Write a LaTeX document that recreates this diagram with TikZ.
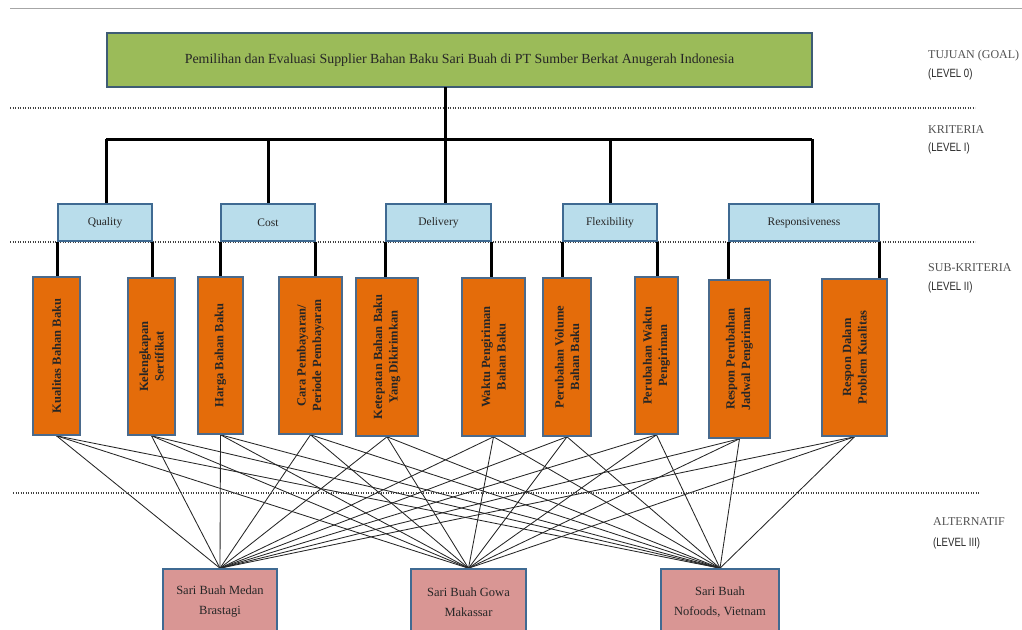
\documentclass[tikz,border=0pt]{standalone}
\usepackage{fontspec}
\setmainfont{Liberation Serif}
\newfontfamily\narrowsans[FakeStretch=0.8]{Liberation Sans}
\usetikzlibrary{backgrounds}
\definecolor{goalfill}{HTML}{9BBB59}
\definecolor{goaldraw}{HTML}{3E5C74}
\definecolor{critfill}{HTML}{B9DDEB}
\definecolor{critdraw}{HTML}{3F6A92}
\definecolor{subfill}{HTML}{E46C0A}
\definecolor{subdraw}{HTML}{4A6A8C}
\definecolor{altfill}{HTML}{D99694}
\definecolor{altdraw}{HTML}{3F6A92}
\definecolor{txt}{HTML}{262626}
\tikzset{
  boxbase/.style={rectangle, inner sep=0pt, line width=1.6pt, text=txt},
  goalbox/.style={boxbase, fill=goalfill, draw=goaldraw},
  critbox/.style={boxbase, fill=critfill, draw=critdraw, font=\fontsize{11.5}{13}\selectfont},
  subbox/.style={boxbase, fill=subfill, draw=subdraw},
  subtext/.style={rotate=90, align=center, inner sep=0pt, text=txt, font=\bfseries\fontsize{12.5}{15.5}\selectfont},
  altbox/.style={boxbase, fill=altfill, draw=altdraw},
  alttext/.style={align=center, inner sep=0pt, text=txt, font=\fontsize{12.5}{20}\selectfont},
  tree/.style={line width=3pt, draw=black},
  net/.style={line width=0.85pt, draw=black!85},
  levelsep/.style={line width=1.1pt, draw=black!75, dash pattern=on 1.2pt off 1.3pt},
  lvlserif/.style={anchor=west, inner sep=0pt, text=txt!80, font=\fontsize{12}{14}\selectfont},
  lvlsans/.style={anchor=west, inner sep=0pt, text=txt, font=\narrowsans\fontsize{12}{14}\selectfont},
}
\begin{document}
\begin{tikzpicture}[x=1pt,y=-1pt]
\useasboundingbox (0,0) rectangle (1022,629);
\clip (0,0) rectangle (1022,629);
% top rule
\coordinate (rl) at (10,8);
\coordinate (rr) at (1022,8);
\draw[line width=1pt, draw=black!35] (rl) -- (rr);
% level separators
\coordinate (d1l) at (10,108); \coordinate (d1r) at (975,108);
\coordinate (d2l) at (10,242); \coordinate (d2r) at (975,242);
\coordinate (d3l) at (13,493); \coordinate (d3r) at (980,493);
\draw[levelsep] (d1l) -- (d1r);
\draw[levelsep] (d2l) -- (d2r);
\draw[levelsep] (d3l) -- (d3r);
% goal
\node[goalbox, minimum width=705pt, minimum height=54pt, font=\fontsize{13.9}{16}\selectfont] (goal) at (459.5,60)
  {Pemilihan dan Evaluasi Supplier Bahan Baku Sari Buah di PT Sumber Berkat Anugerah Indonesia};
% criteria
\node[critbox, minimum width=94pt, minimum height=37pt] (cq) at (105,222.5) {Quality};
\node[critbox, minimum width=94pt, minimum height=37pt] (cc) at (268,222.5) {Cost};
\node[critbox, minimum width=105pt, minimum height=37pt] (cd) at (438.5,222.5) {Delivery};
\node[critbox, minimum width=94pt, minimum height=37pt] (cf) at (610,222.5) {Flexibility};
\node[critbox, minimum width=150pt, minimum height=37pt] (cr) at (804,222.5) {Responsiveness};
% tree from goal to criteria
\coordinate (trunk) at (445,87);
\coordinate (bq) at (106,139);
\coordinate (bc) at (268,139);
\coordinate (bd) at (445,139);
\coordinate (bf) at (610,139);
\coordinate (br) at (812,139);
\draw[tree] (trunk) -- (bd);
\draw[tree] (bq) -- (br);
\draw[tree] (bq) -- (bq |- cq.north);
\draw[tree] (bc) -- (bc |- cc.north);
\draw[tree] (bd) -- (bd |- cd.north);
\draw[tree] (bf) -- (bf |- cf.north);
\draw[tree] (br) -- (br |- cr.north);
% sub-criteria
\node[subbox, minimum width=47pt, minimum height=158pt] (s1) at (56.5,356) {};
\node[subbox, minimum width=47pt, minimum height=157pt] (s2) at (151.5,356.5) {};
\node[subbox, minimum width=45pt, minimum height=157pt] (s3) at (220.5,355.5) {};
\node[subbox, minimum width=63pt, minimum height=157pt] (s4) at (310.5,355.5) {};
\node[subbox, minimum width=62pt, minimum height=158pt] (s5) at (387,357) {};
\node[subbox, minimum width=63pt, minimum height=158pt] (s6) at (493.5,357) {};
\node[subbox, minimum width=48pt, minimum height=158pt] (s7) at (567,357) {};
\node[subbox, minimum width=43pt, minimum height=157pt] (s8) at (656.5,355.5) {};
\node[subbox, minimum width=61pt, minimum height=158pt] (s9) at (739.5,359) {};
\node[subbox, minimum width=65pt, minimum height=157pt] (s10) at (854.5,357.5) {};
\node[subtext] (t1) at (s1) {Kualitas Bahan Baku};
\node[subtext] (t2) at (s2) {Kelengkapan\\Sertifikat};
\node[subtext] (t3) at (s3) {Harga Bahan Baku};
\node[subtext] (t4) at (s4) {Cara Pembayaran/\\Periode Pembayaran};
\node[subtext] (t5) at (s5) {Ketepatan Bahan Baku\\Yang Dikirimkan};
\node[subtext] (t6) at (s6) {Waktu Pengiriman\\Bahan Baku};
\node[subtext] (t7) at (s7) {Perubahan Volume\\Bahan Baku};
\node[subtext] (t8) at (s8) {Perubahan Waktu\\Pengiriman};
\node[subtext] (t9) at (s9) {Respon Perubahan\\Jadwal Pengiriman};
\node[subtext] (t10) at (s10) {Respon Dalam\\Problem Kualitas};
% criteria to sub-criteria
\draw[tree] (cq.south west) -- (cq.south west |- s1.north);
\draw[tree] (cq.south east) -- (cq.south east |- s2.north);
\draw[tree] (cc.south west) -- (cc.south west |- s3.north);
\draw[tree] (cc.south east) -- (cc.south east |- s4.north);
\draw[tree] (cd.south west) -- (cd.south west |- s5.north);
\draw[tree] (cd.south east) -- (cd.south east |- s6.north);
\draw[tree] (cf.south west) -- (cf.south west |- s7.north);
\draw[tree] (cf.south east) -- (cf.south east |- s8.north);
\draw[tree] (cr.south west) -- (cr.south west |- s9.north);
\draw[tree] (cr.south east) -- (cr.south east |- s10.north);
% alternatives
\node[altbox, minimum width=114pt, minimum height=72pt] (a1) at (220,605) {};
\node[altbox, minimum width=115pt, minimum height=72pt] (a2) at (468.5,605) {};
\node[altbox, minimum width=118pt, minimum height=72pt] (a3) at (720,605) {};
\node[alttext] (at1) at (220,602) {Sari Buah Medan\\Brastagi};
\node[alttext] (at2) at (468.5,602) {Sari Buah Gowa\\Makassar};
\node[alttext] (at3) at (720,602) {Sari Buah\\Nofoods, Vietnam};
% network
\begin{scope}[on background layer]
\foreach \s in {s1,s2,s3,s4,s5,s6,s7,s8,s9,s10}{
  \foreach \a in {a1,a2,a3}{
    \draw[net] (\s.south) -- (\a.north);
  }
}
\end{scope}
% level labels
\node[lvlserif] (l0a) at (928,56) {TUJUAN (GOAL)};
\node[lvlsans] (l0b) at (928,74) {(LEVEL 0)};
\node[lvlserif] (l1a) at (928,130) {KRITERIA};
\node[lvlsans] (l1b) at (928,148) {(LEVEL I)};
\node[lvlserif] (l2a) at (928,268) {SUB-KRITERIA};
\node[lvlsans] (l2b) at (928,287) {(LEVEL II)};
\node[lvlserif] (l3a) at (933,522) {ALTERNATIF};
\node[lvlsans] (l3b) at (933,543) {(LEVEL III)};
\end{tikzpicture}
\end{document}
